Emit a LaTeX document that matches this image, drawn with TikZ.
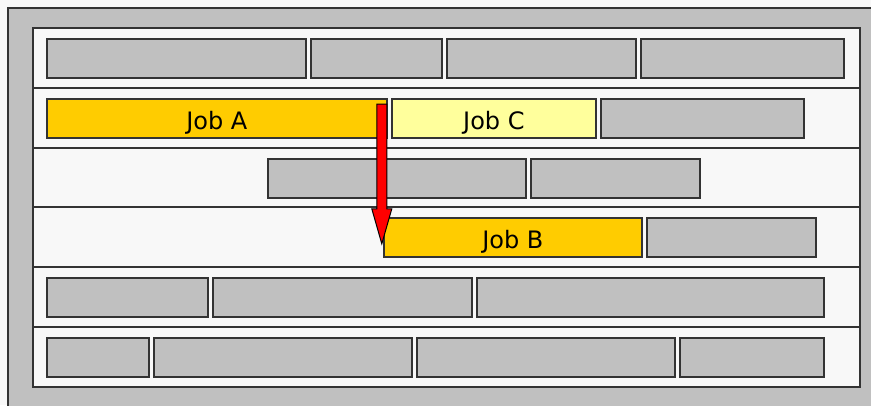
\documentclass[tikz,border=0pt]{standalone}
\usepackage{fontspec}
\setmainfont{DejaVu Sans}
\usetikzlibrary{calc}
\definecolor{panelgray}{HTML}{C0C0C0}
\definecolor{panelwhite}{HTML}{F8F8F8}
\definecolor{jobyellow}{HTML}{FFCC00}
\definecolor{jobpale}{HTML}{FFFF9C}
\definecolor{edgegray}{HTML}{333333}

\tikzset{
  slot/.style={draw=edgegray, line width=1.8pt, fill=panelgray, inner sep=0pt,
    anchor=north west, minimum height=39pt},
  jobslot/.style={slot, fill=jobyellow, font=\fontsize{24}{24}\selectfont,
    text height=22pt, text depth=0pt},
  paleslot/.style={jobslot, fill=jobpale},
  rowline/.style={draw=edgegray, line width=1.8pt},
  movearrow/.style={fill=red, draw=black, line width=1pt, line join=miter}
}

\begin{document}
\begin{tikzpicture}[x=1pt, y=-1pt]
	\useasboundingbox (0,0) rectangle (871,405);
	\fill[panelwhite] (0,0) rectangle (871,405);
	\fill[panelgray] (8,8) rectangle (872,406);
	\draw[rowline] (8,406) |- (872,8);
	\draw[rowline, fill=panelwhite] (33,28) rectangle (860,387);
	\foreach \y in {88,148,207,267,327}
		\draw[rowline] (33,\y) -- (860,\y);

	\foreach \nm/\xa/\xb/\ya in {
		ra/46/305/38, rb/310/441/38, rc/446/635/38, rd/640/843/38,
		sa/600/803/98,
		ta/267/525/158, tb/530/699/158,
		ua/646/815/217,
		va/46/207/277, vb/212/471/277, vc/476/823/277,
		wa/46/148/337, wb/153/411/337, wc/416/674/337, wd/679/823/337}
		\node[slot, minimum width={(\xb-\xa)*1pt}] (\nm) at (\xa,\ya) {};

	\node[jobslot, minimum width=340pt] (jobA) at (46,98) {Job A};
	\node[paleslot, minimum width=204pt] (jobC) at (391,98) {Job C};
	\node[jobslot, minimum width=258pt] (jobB) at (383,217) {Job B};

	\coordinate (arrowtop) at ($(jobA.north east)+(-6,6)$);
	\coordinate (tiplevel) at ($(jobB.south west)+(0,-14)$);
	\coordinate (arrowtip) at (arrowtop |- tiplevel);
	\draw[movearrow] ($(arrowtop)+(-5,0)$) -- ($(arrowtop)+(5,0)$)
		-- ($(arrowtip)+(5,-35)$) -- ($(arrowtip)+(10,-35)$) -- (arrowtip)
		-- ($(arrowtip)+(-10,-35)$) -- ($(arrowtip)+(-5,-35)$) -- cycle;
\end{tikzpicture}
\end{document}
